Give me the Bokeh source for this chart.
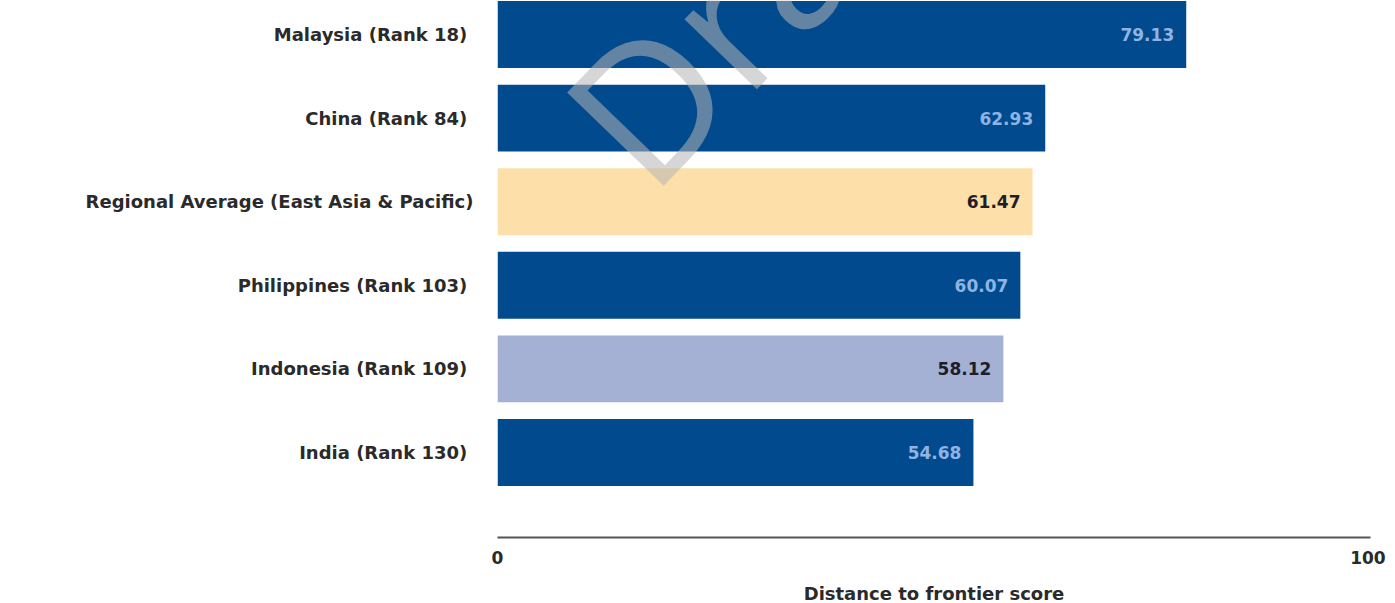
from bokeh.plotting import figure
from bokeh.models import Range1d, FixedTicker, ColumnDataSource, Label
from bokeh.embed import file_html
from bokeh.resources import INLINE
from bokeh.core.properties import value

# ---- data ----
categories = [
    "Malaysia (Rank  18)",
    "China (Rank  84)",
    "Regional Average (East Asia & Pacific)",
    "Philippines (Rank  103)",
    "Indonesia (Rank  109)",
    "India (Rank  130)",
]
scores = [79.13, 62.93, 61.47, 60.07, 58.12, 54.68]
bar_colors = ["#004A8D", "#004A8D", "#FDDFA9", "#004A8D", "#A4B1D5", "#004A8D"]
label_colors = ["#8FB3E2", "#8FB3E2", "#1E1E28", "#8FB3E2", "#1E1E28", "#8FB3E2"]
x_ticks = [0, 100]
x_title = "Distance to frontier score"
watermark = "Draft"

FONT = "DejaVu Sans"

n = len(categories)
ypos = [n - 1 - i for i in range(n)]

src = ColumnDataSource(dict(
    y=ypos, score=scores, color=bar_colors, tcolor=label_colors,
    label=["%.2f" % s for s in scores],
))

p = figure(
    frame_width=873, frame_height=537,
    min_border_left=497, min_border_right=25, min_border_top=0, min_border_bottom=66,
    x_range=Range1d(0, 100.3), y_range=Range1d(-1.017, 5.407),
    output_backend="svg", toolbar_location=None,
)
p.outline_line_color = None
p.xgrid.visible = False
p.ygrid.visible = False
p.background_fill_color = "white"
p.border_fill_color = "white"

p.hbar(y="y", left=0, right="score", height=0.8, fill_color="color",
       line_color=None, source=src)

p.text(x="score", y="y", text="label", x_offset=-12, text_align="right",
       text_baseline="middle", text_color="tcolor",
       text_font=value(FONT), text_font_style="bold",
       text_font_size="17px", source=src)

# y axis
p.yaxis.ticker = FixedTicker(ticks=ypos)
p.yaxis.major_label_overrides = {y: c for y, c in zip(ypos, categories)}
p.yaxis.axis_line_color = None
p.yaxis.major_tick_line_color = None
p.yaxis.major_tick_out = 0
p.yaxis.major_tick_in = 0
p.yaxis.minor_tick_line_color = None
p.yaxis.major_label_standoff = 24
p.yaxis.major_label_text_font = FONT
p.yaxis.major_label_text_font_style = "bold"
p.yaxis.major_label_text_font_size = "18px"
p.yaxis.major_label_text_color = "#2A2A2A"

# x axis
p.xaxis.ticker = FixedTicker(ticks=x_ticks)
p.xaxis.major_tick_line_color = None
p.xaxis.major_tick_out = 0
p.xaxis.major_tick_in = 0
p.xaxis.minor_tick_line_color = None
p.xaxis.axis_line_color = "#555555"
p.xaxis.axis_line_width = 2
p.xaxis.major_label_standoff = 13
p.xaxis.major_label_text_font = FONT
p.xaxis.major_label_text_font_style = "bold"
p.xaxis.major_label_text_font_size = "17px"
p.xaxis.major_label_text_color = "#2A2A2A"
p.xaxis.axis_label = x_title
p.xaxis.axis_label_standoff = 16
p.xaxis.axis_label_text_font = FONT
p.xaxis.axis_label_text_font_style = "bold"
p.xaxis.axis_label_text_font_size = "18px"
p.xaxis.axis_label_text_color = "#2A2A2A"

# watermark
p.add_layout(Label(
    x=11.6, y=3.64, text=watermark, angle=46, angle_units="deg",
    text_font="Open Sans", text_font_size="188px",
    text_color=(180, 180, 180), text_alpha=0.55, text_baseline="alphabetic",
))

open("out.html", "w").write(file_html(p, INLINE))
